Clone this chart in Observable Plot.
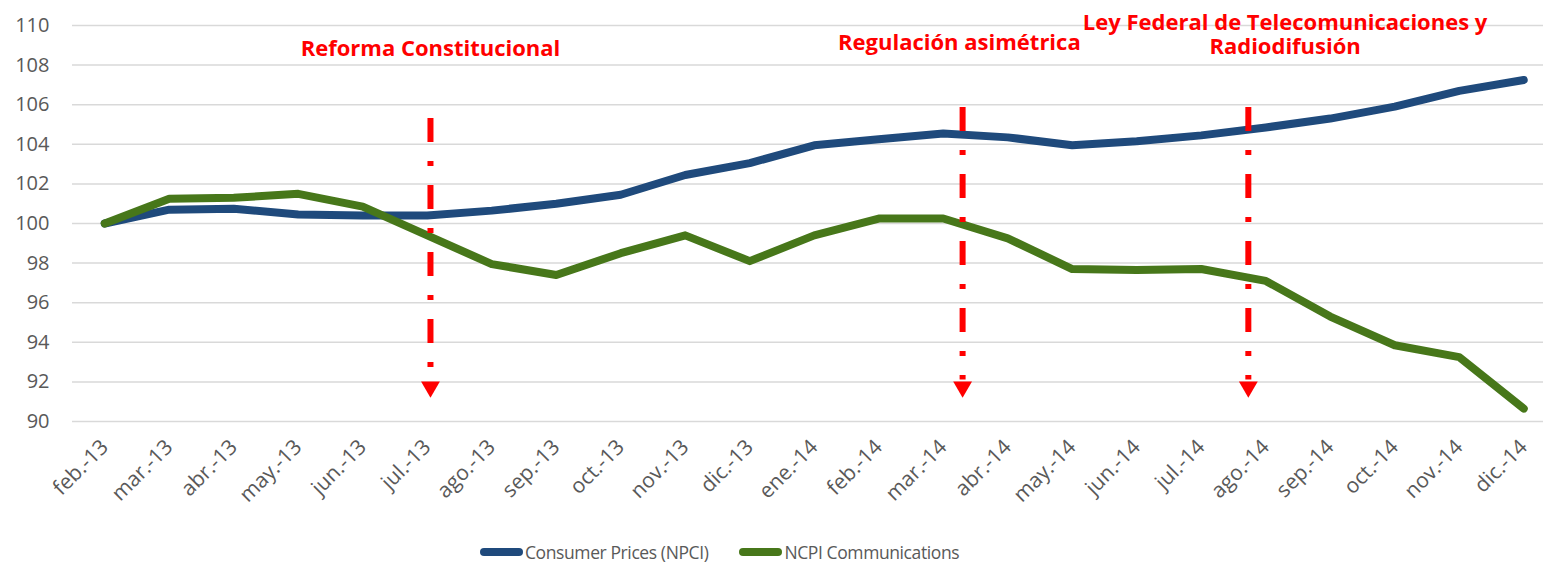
<!DOCTYPE html>
<html>
<head>
<meta charset="utf-8">
<script src="https://cdn.jsdelivr.net/npm/d3@7"></script>
<script src="https://cdn.jsdelivr.net/npm/@observablehq/plot@0.6"></script>
<style>
  html, body { margin: 0; padding: 0; background: #fff; }
  body { width: 1543px; height: 562px; overflow: hidden; font-family: "Open Sans", sans-serif; }
  #legend { display: flex; justify-content: flex-start; align-items: center; height: 32px; margin-top: 6px; padding-left: 480px; font-size: 17.5px; letter-spacing: -0.4px; color: #595959; }
  .item { display: flex; align-items: center; margin-right: 31px; }
  .swatch { width: 43px; height: 8px; border-radius: 4px; margin-right: 2px; }
</style>
</head>
<body>
<div id="chart"></div>
<div id="legend"></div>
<script>
const months = ["feb.-13","mar.-13","abr.-13","may.-13","jun.-13","jul.-13","ago.-13","sep.-13","oct.-13","nov.-13","dic.-13","ene.-14","feb.-14","mar.-14","abr.-14","may.-14","jun.-14","jul.-14","ago.-14","sep.-14","oct.-14","nov.-14","dic.-14"];
const npci = [100, 100.7, 100.75, 100.45, 100.4, 100.4, 100.65, 101.0, 101.45, 102.45, 103.05, 103.95, 104.25, 104.55, 104.35, 103.95, 104.15, 104.45, 104.85, 105.3, 105.9, 106.7, 107.25];
const comm = [100, 101.25, 101.3, 101.5, 100.85, 99.4, 97.95, 97.4, 98.5, 99.4, 98.1, 99.4, 100.25, 100.25, 99.25, 97.7, 97.65, 97.7, 97.1, 95.3, 93.85, 93.25, 90.65];
const seriesNames = ["Consumer Prices (NPCI)", "NCPI Communications"];
const seriesColors = ["#1f4a7c", "#47771a"];
const yTicks = [90, 92, 94, 96, 98, 100, 102, 104, 106, 108, 110];

// Events (x in month index units, y in index value units)
const eventLabels = ["Reforma Constitucional", "Regulación asimétrica", "Ley Federal de Telecomunicaciones y\nRadiodifusión"];
const eventArrowX = [5.05, 13.3, 17.73];
const eventArrowTop = [105.3, 105.86, 105.86];
const eventArrowBottom = [92.1, 92.1, 92.1];
const eventHeadY = [91.75, 91.75, 91.75];
const eventLabelX = [5.05, 13.25, 18.3];
const eventLabelY = [108.84, 109.14, 109.55];

const rows = [];
months.forEach((m, i) => {
  rows.push({i, v: npci[i], s: seriesNames[0]});
});
months.forEach((m, i) => {
  rows.push({i, v: comm[i], s: seriesNames[1]});
});
const events = eventLabels.map((label, k) => ({
  label, x: eventArrowX[k], top: eventArrowTop[k], bottom: eventArrowBottom[k], head: eventHeadY[k],
  lx: eventLabelX[k], ly: eventLabelY[k]
}));

const chart = Plot.plot({
  width: 1543,
  height: 530,
  marginLeft: 72,
  marginRight: 0,
  marginTop: 25,
  marginBottom: 109,
  style: { fontFamily: "Open Sans, sans-serif", fontSize: "20px", color: "#595959", background: "#fff" },
  x: { type: "linear", domain: [0, months.length - 1], range: [104.25, 1523.25] },
  y: { domain: [90, 110] },
  color: { domain: seriesNames, range: seriesColors },
  marks: [
    Plot.gridY(yTicks, { stroke: "#d9d9d9", strokeOpacity: 1, strokeWidth: 1.5 }),
    Plot.axisY({ ticks: yTicks, tickSize: 0, tickPadding: 23, fontSize: 20, fill: "#595959", label: null }),
    Plot.axisX({ ticks: d3.range(months.length), tickFormat: i => months[i], tickRotate: -45, tickSize: 0, tickPadding: 22, fontSize: 21, fill: "#595959", label: null }),
    Plot.line(rows, { x: "i", y: "v", stroke: "s", z: "s", strokeWidth: 8, strokeLinecap: "round", strokeLinejoin: "round" }),
    Plot.ruleX(events, { x: "x", y1: "top", y2: "bottom", stroke: "#ff0000", strokeWidth: 6, strokeDasharray: "24,19,5,19" }),
    Plot.dot(events, { x: "x", y: "head", symbol: "triangle", rotate: 180, r: 7, fill: "#ff0000", stroke: "none" }),
    Plot.text(events, { x: "lx", y: "ly", text: "label", fill: "#ff0000", fontWeight: "bold", fontSize: 22, lineHeight: 1.1, textAnchor: "middle" })
  ]
});
document.getElementById("chart").appendChild(chart);

const legend = document.getElementById("legend");
seriesNames.forEach((name, k) => {
  const item = document.createElement("div");
  item.className = "item";
  const sw = document.createElement("span");
  sw.className = "swatch";
  sw.style.background = seriesColors[k];
  const t = document.createElement("span");
  t.textContent = name;
  item.appendChild(sw);
  item.appendChild(t);
  legend.appendChild(item);
});
</script>
</body>
</html>
